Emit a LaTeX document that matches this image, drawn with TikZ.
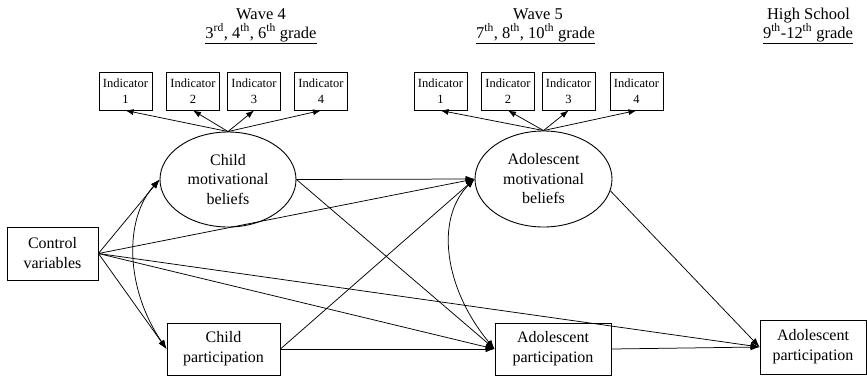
\documentclass[tikz,border=0pt]{standalone}
\usepackage{fontspec}
\setmainfont{Liberation Serif}
\usetikzlibrary{shapes.geometric,arrows.meta}
\begin{document}
\begin{tikzpicture}[x=1pt,y=-1pt,
  box/.style={draw,line width=0.9pt,inner sep=1pt,align=center,
    font=\fontsize{16}{20}\selectfont},
  ind/.style={draw,line width=0.9pt,inner sep=1pt,minimum width=53pt,
    minimum height=38pt,align=center,font=\fontsize{12.5}{16}\selectfont},
  latent/.style={draw,ellipse,line width=0.9pt,inner sep=0pt,
    minimum width=136pt,minimum height=95pt,align=center,
    font=\fontsize{16}{19.5}\selectfont},
  head/.style={anchor=base,inner sep=0pt,font=\fontsize{16.5}{19}\selectfont},
  path/.style={line width=0.75pt,-{Latex[length=9pt,width=6.5pt]}},
  load/.style={line width=0.75pt,-{Latex[length=8pt,width=6pt]}},
  cov/.style={line width=0.75pt,
    {Latex[length=9pt,width=6.5pt]}-{Latex[length=9pt,width=6.5pt]}}
]
\useasboundingbox (0,0) rectangle (867,378);

% column headings
\node[head] (h4a) at (261,19) {Wave 4};
\node[head] (h4b) at (261,38) {\underline{3\textsuperscript{rd}, 4\textsuperscript{th}, 6\textsuperscript{th} grade}};
\node[head] (h5a) at (538,19) {Wave 5};
\node[head] (h5b) at (535.5,38) {\underline{7\textsuperscript{th}, 8\textsuperscript{th}, 10\textsuperscript{th} grade}};
\node[head] (hsa) at (808.5,19) {High School};
\node[head] (hsb) at (808,38) {\underline{9\textsuperscript{th}-12\textsuperscript{th} grade}};

% indicators
\node[ind] (a1) at (125.5,91) {Indicator\\1};
\node[ind] (a2) at (193,91) {Indicator\\2};
\node[ind] (a3) at (254,91) {Indicator\\3};
\node[ind] (a4) at (321,91) {Indicator\\4};
\node[ind] (b1) at (440.5,91) {Indicator\\1};
\node[ind] (b2) at (508,91) {Indicator\\2};
\node[ind] (b3) at (568.5,91) {Indicator\\3};
\node[ind] (b4) at (636.5,91) {Indicator\\4};

% latent beliefs
\node[latent] (cmb) at (228,179.5) {Child\\motivational\\beliefs};
\node[latent,minimum width=137pt,minimum height=96pt] (amb) at (543.5,179) {Adolescent\\motivational\\beliefs};

% observed variables
\node[box,minimum width=91pt,minimum height=53pt] (ctrl) at (52.5,253.5) {Control\\variables};
\node[box,minimum width=113pt,minimum height=52pt] (cp) at (223.5,349) {Child\\participation};
\node[box,minimum width=116pt,minimum height=52pt] (ap) at (553,349) {Adolescent\\participation};
\node[box,minimum width=106pt,minimum height=54pt] (hp) at (813,347) {Adolescent\\participation};

% measurement paths
\foreach \i in {a1,a2,a3,a4} \draw[load] (cmb.north) -- (\i.south);
\foreach \i in {b1,b2,b3,b4} \draw[load] (amb.north) -- (\i.south);

% control paths
\draw[path] (ctrl.east) -- (cmb.west);
\draw[path] (ctrl.east) -- (cp.west);
\draw[path] (ctrl.east) -- (amb.west);
\draw[path] (ctrl.east) -- (ap.west);
\draw[path] (ctrl.east) -- (hp.west);

% structural paths
\draw[path] (cmb.east) -- (amb.west);
\draw[path] (cmb.east) -- (ap.west);
\draw[path] (cp.east) -- (amb.west);
\draw[path] (cp.east) -- (ap.west);
\draw[path] (amb.350) -- (hp.west);
\draw[path] (ap.east) -- (hp.west);

% covariances
\draw[cov] (cmb.west) .. controls +(-36,40) and +(-41,-60) .. (cp.west);
\draw[cov] (amb.west) .. controls +(-40,40) and +(-50,-60) .. (ap.west);
\end{tikzpicture}
\end{document}
